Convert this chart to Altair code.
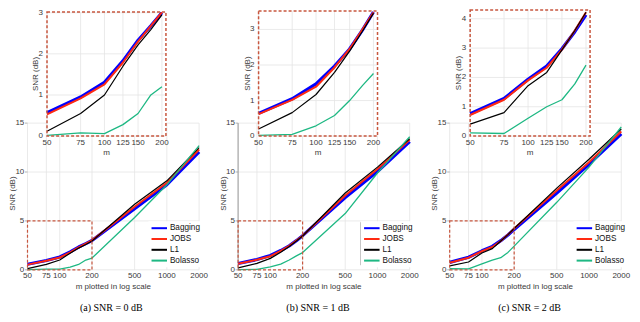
import math
import altair as alt
import pandas as pd

METHODS = ["Bagging", "JOBS", "L1", "Bolasso"]
COLORS = ["#0000ff", "#ff2a12", "#000000", "#1eb883"]
WIDTHS = [3.2, 2.0, 1.2, 1.3]

M_SMALL = [50, 75, 100, 125, 150, 175, 200]
M_LARGE = [500, 1000, 2000]
MAIN_X_TICKS = [50, 75, 100, 200, 500, 1000, 2000]
MAIN_Y_TICKS = [0, 5, 10, 15]
INSET_X_TICKS = [50, 75, 100, 125, 150, 200]

# (a) SNR = 0 dB  (values at M_SMALL + M_LARGE)
A_BAGGING = [0.57, 0.95, 1.31, 1.83, 2.33, 2.68, 3.00, 6.25, 8.7, 12.05]
A_JOBS = [0.53, 0.92, 1.26, 1.79, 2.30, 2.68, 3.01, 6.45, 8.9, 12.3]
A_L1 = [0.12, 0.55, 1.00, 1.70, 2.22, 2.59, 2.95, 6.7, 9.1, 12.5]
A_BOLASSO = [0.02, 0.08, 0.06, 0.28, 0.55, 1.00, 1.20, 5.35, 8.7, 12.7]
# (b) SNR = 1 dB
B_BAGGING = [0.64, 1.05, 1.47, 1.97, 2.45, 2.98, 3.49, 7.4, 10.05, 13.1]
B_JOBS = [0.62, 1.02, 1.39, 1.93, 2.45, 3.00, 3.48, 7.6, 10.3, 13.3]
B_L1 = [0.20, 0.66, 1.17, 1.79, 2.39, 2.95, 3.46, 7.85, 10.5, 13.4]
B_BOLASSO = [0.02, 0.05, 0.29, 0.58, 1.00, 1.42, 1.76, 5.75, 9.9, 13.6]
# (c) SNR = 2 dB
C_BAGGING = [0.76, 1.28, 1.94, 2.39, 2.98, 3.56, 4.13, 7.85, 10.8, 13.9]
C_JOBS = [0.72, 1.24, 1.90, 2.33, 2.95, 3.60, 4.22, 8.1, 11.0, 14.15]
C_L1 = [0.41, 0.80, 1.72, 2.17, 2.94, 3.60, 4.22, 8.35, 11.3, 14.4]
C_BOLASSO = [0.11, 0.09, 0.61, 1.00, 1.24, 1.78, 2.42, 6.9, 10.5, 14.6]

SERIES = [
    [A_BAGGING, A_JOBS, A_L1, A_BOLASSO],
    [B_BAGGING, B_JOBS, B_L1, B_BOLASSO],
    [C_BAGGING, C_JOBS, C_L1, C_BOLASSO],
]
CAPTIONS = ["(a) SNR = 0 dB", "(b) SNR = 1 dB", "(c) SNR = 2 dB"]
INSET_YMAX = [3.02, 3.52, 4.3]
INSET_Y_TICKS = [[0, 1, 2, 3], [0, 1, 2, 3], [0, 1, 2, 3, 4]]

# ---------------- layout (reference pixel coordinates) ----------------
SX, SY = 0.975, 0.978
W, H = 624, 306


def gx(x):
    return round((x - 1) * SX, 2)


def gy(y):
    return round((y + 1) * SY, 2)


LAYOUT = [
    dict(main=(21, 197), inset=(41, 163), itop=3.0, leg_x=145, gray_m=2000, cap_x=107, ydom=False),
    dict(main=(237, 413), inset=(258, 380), itop=2.0, leg_x=363, gray_m=701, cap_x=319, ydom=True),
    dict(main=(454, 630), inset=(475, 598), itop=1.0, leg_x=581, gray_m=2000, cap_x=536, ydom=False),
]
MAIN_Y0, MAIN_Y15 = 266.7, 116.7
INSET_Y0 = 130

FONT = "Liberation Sans"
TXT = "#3a3a3a"
GRID = "#e4e4e4"
BOX = "#c8573f"
ONE = pd.DataFrame({"z": [0]})


def frame(m_list, series, n):
    rows = []
    for meth, vals in zip(METHODS, series):
        for m, v in zip(m_list, vals[:n]):
            rows.append({"m": m, "snr": v, "method": meth})
    return pd.DataFrame(rows)


def qd(v, scale, ch):
    if ch == "x":
        return alt.XDatum(v, type="quantitative", scale=scale, axis=None)
    return alt.YDatum(v, type="quantitative", scale=scale, axis=None)


def tick_labels(ticks, xs, ys, axis, at, off):
    df = pd.DataFrame({"t": ticks, "lab": [str(t) for t in ticks]})
    if axis == "x":
        return alt.Chart(df).mark_text(font=FONT, fontSize=8, color=TXT, align="center",
                                       baseline="middle", yOffset=off).encode(
            x=alt.X("t:Q", scale=xs, axis=None), y=qd(at, ys, "y"), text="lab:N")
    return alt.Chart(df).mark_text(font=FONT, fontSize=8, color=TXT, align="right",
                                   baseline="middle", xOffset=off).encode(
        y=alt.Y("t:Q", scale=ys, axis=None), x=qd(at, xs, "x"), text="lab:N")


def title_text(txt, xs, ys, xv, yv, xo=0, yo=0, angle=0):
    return alt.Chart(ONE).mark_text(font=FONT, fontSize=8, color=TXT, align="center",
                                    baseline="middle", xOffset=xo, yOffset=yo, angle=angle).encode(
        x=qd(xv, xs, "x"), y=qd(yv, ys, "y"), text=alt.value(txt))


def grid_rules(xt, yt, xs, ys, xlim, ylim):
    v = alt.Chart(pd.DataFrame({"t": xt})).mark_rule(color=GRID, strokeWidth=0.8).encode(
        x=alt.X("t:Q", scale=xs, axis=None), y=qd(ylim[0], ys, "y"), y2=alt.Y2Datum(ylim[1]))
    h = alt.Chart(pd.DataFrame({"t": yt})).mark_rule(color=GRID, strokeWidth=0.8).encode(
        y=alt.Y("t:Q", scale=ys, axis=None), x=qd(xlim[0], xs, "x"), x2=alt.X2Datum(xlim[1]))
    return [v, h]


def lines(df, xs, ys, legend):
    cs = alt.Scale(domain=METHODS, range=COLORS)
    out = []
    for k, meth in enumerate(METHODS):
        out.append(
            alt.Chart(df).transform_filter(alt.datum.method == meth)
            .mark_line(strokeJoin="round", strokeWidth=WIDTHS[k])
            .encode(
                x=alt.X("m:Q", scale=xs, axis=None),
                y=alt.Y("snr:Q", scale=ys, axis=None),
                color=alt.Color("method:N", scale=cs, legend=legend if k == 0 else None),
            )
        )
    return out


def main_panel(i):
    p = LAYOUT[i]
    x0, x1 = p["main"]
    df = frame(M_SMALL + M_LARGE, SERIES[i], 10)
    xs = alt.Scale(type="log", domain=[50, 2000], range=[gx(x0), gx(x1)], nice=False)
    ys = alt.Scale(domain=[0, 15], range=[gy(MAIN_Y0), gy(MAIN_Y15)], nice=False, zero=False)

    legend = alt.Legend(orient="none", legendX=gx(p["leg_x"]), legendY=gy(217), title=None,
                        symbolType="M-1,0L3,0", symbolSize=60, symbolStrokeWidth=2.0,
                        labelFont=FONT, labelFontSize=8.2, labelColor="#111111",
                        labelOffset=9.5, padding=2, fillColor="white", rowPadding=1.8)

    layers = grid_rules(MAIN_X_TICKS, MAIN_Y_TICKS, xs, ys, (50, 2000), (0, 15))
    ticks = alt.Chart(pd.DataFrame({"t": MAIN_Y_TICKS})).mark_rule(
        color="#a0a0a0", strokeWidth=0.8, xOffset=-2.5, x2Offset=0).encode(
        y=alt.Y("t:Q", scale=ys, axis=None), x=qd(50, xs, "x"), x2=alt.X2Datum(50))
    layers.append(ticks)
    if p["ydom"]:
        layers.append(alt.Chart(ONE).mark_rule(color="#9a9a9a", strokeWidth=1).encode(
            x=qd(50, xs, "x"), y=qd(0, ys, "y"), y2=alt.Y2Datum(15)))
    layers += lines(df, xs, ys, legend)
    layers.append(alt.Chart(ONE).mark_rect(fillOpacity=0, stroke=BOX, strokeWidth=1.2,
                                           strokeDash=[3, 2]).encode(
        x=qd(50, xs, "x"), x2=alt.X2Datum(200), y=qd(0, ys, "y"), y2=alt.Y2Datum(5)))
    layers.append(alt.Chart(ONE).mark_rule(color="#9a9a9a", strokeWidth=1).encode(
        x=qd(p["gray_m"], xs, "x"), y=qd(0.47, ys, "y"), y2=alt.Y2Datum(4.87)))
    layers.append(tick_labels(MAIN_X_TICKS, xs, ys, "x", 0, 6.0))
    layers.append(tick_labels(MAIN_Y_TICKS, xs, ys, "y", 50, -3.2))
    layers.append(title_text("m plotted in log scale", xs, ys, math.sqrt(50 * 2000), 0, yo=17.0))
    layers.append(title_text("SNR (dB)", xs, ys, 50, 7.8, xo=-14.5, angle=270))
    return alt.layer(*layers)


def inset_panel(i):
    p = LAYOUT[i]
    x0, x1 = p["inset"]
    ymax = INSET_YMAX[i]
    df = frame(M_SMALL, SERIES[i], 7)
    xs = alt.Scale(type="log", domain=[50, 210], range=[gx(x0), gx(x1)], nice=False)
    ys = alt.Scale(domain=[0, ymax], range=[gy(INSET_Y0), gy(p["itop"])], nice=False, zero=False)

    layers = [alt.Chart(ONE).mark_rect(fill="white").encode(
        x=qd(50, xs, "x"), x2=alt.X2Datum(210), y=qd(0, ys, "y"), y2=alt.Y2Datum(ymax))]
    layers += grid_rules(INSET_X_TICKS, INSET_Y_TICKS[i], xs, ys, (50, 210), (0, ymax))
    layers += lines(df, xs, ys, None)
    layers.append(alt.Chart(ONE).mark_rect(fillOpacity=0, stroke=BOX, strokeWidth=1.5,
                                           strokeDash=[3, 2]).encode(
        x=qd(50, xs, "x"), x2=alt.X2Datum(210), y=qd(0, ys, "y"), y2=alt.Y2Datum(ymax)))
    layers.append(tick_labels(INSET_X_TICKS, xs, ys, "x", 0, 6.8))
    layers.append(tick_labels(INSET_Y_TICKS[i], xs, ys, "y", 50, -4.0))
    layers.append(title_text("m", xs, ys, math.sqrt(50 * 210), 0, yo=16.6))
    layers.append(title_text("SNR (dB)", xs, ys, 50, ymax / 2, xo=-10.8, angle=270))
    return alt.layer(*layers)


def caption(i):
    p = LAYOUT[i]
    return alt.Chart(ONE).mark_text(font="Liberation Serif", fontSize=10, color="#000000",
                                    align="center", baseline="middle").encode(
        x=alt.value(gx(p["cap_x"])), y=alt.value(gy(305.5)), text=alt.value(CAPTIONS[i]))


parts = []
for i in range(3):
    parts.append(main_panel(i))
    parts.append(inset_panel(i))
for i in range(3):
    parts.append(caption(i))

chart = (
    alt.layer(*parts)
    .resolve_scale(x="independent", y="independent", color="independent")
    .properties(width=W, height=H, autosize=alt.AutoSizeParams(type="none"), padding=0)
    .configure_view(stroke=None)
)

chart.save("out.html", embed_options={"renderer": "svg", "actions": False})
